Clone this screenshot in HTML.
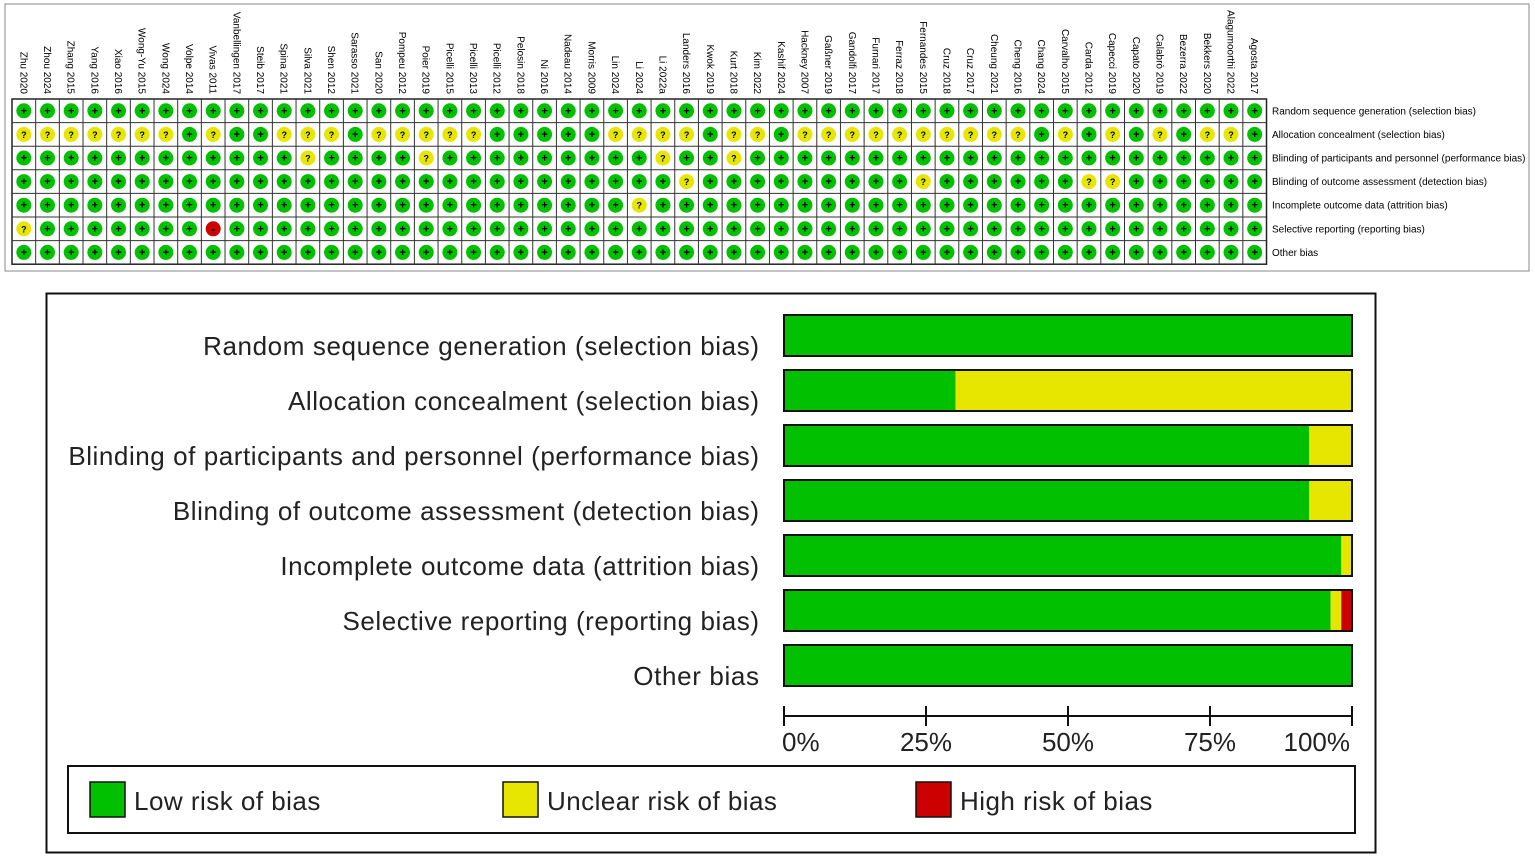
<!DOCTYPE html>
<html><head><meta charset="utf-8"><style>
body{margin:0;background:#fff;font-family:"Liberation Sans",sans-serif}
</style></head><body>
<svg id="chart" width="1535" height="859" xmlns="http://www.w3.org/2000/svg" font-family="Liberation Sans, sans-serif">
<rect x="5" y="4" width="1524" height="267" fill="none" stroke="#888" stroke-width="1"/>
<rect x="46.5" y="293.5" width="1329" height="559" fill="none" stroke="#111" stroke-width="2"/>
<g id="topgrid"></g>
<g id="bottom"></g>
</svg>
<script>
const studies=["Zhu 2020","Zhou 2024","Zhang 2015","Yang 2016","Xiao 2016","Wong-Yu 2015","Wong 2024","Volpe 2014","Vivas 2011","Vanbellingen 2017","Steib 2017","Spina 2021","Silva 2021","Shen 2012","Sarasso 2021","San 2020","Pompeu 2012","Poier 2019","Picelli 2015","Picelli 2013","Picelli 2012","Pelosin 2018","Ni 2016","Nadeau 2014","Morris 2009","Lin 2024","Li 2024","Li 2022a","Landers 2016","Kwok 2019","Kurt 2018","Kim 2022","Kashif 2024","Hackney 2007","Gaßner 2019","Gandolfi 2017","Furnari 2017","Ferraz 2018","Fernandes 2015","Cruz 2018","Cruz 2017","Cheung 2021","Cheng 2016","Chang 2024","Carvalho 2015","Carda 2012","Capecci 2019","Capato 2020","Calabrò 2019","Bezerra 2022","Bekkers 2020","Alagumoorthi 2022","Agosta 2017"];
const domains=["Random sequence generation (selection bias)","Allocation concealment (selection bias)","Blinding of participants and personnel (performance bias)","Blinding of outcome assessment (detection bias)","Incomplete outcome data (attrition bias)","Selective reporting (reporting bias)","Other bias"];
// judgements per domain: L=low, U=unclear, H=high (one char per study)
const judgements=[
"LLLLLLLLLLLLLLLLLLLLLLLLLLLLLLLLLLLLLLLLLLLLLLLLLLLLL",
"UUUUUUULULLUUULUUUUULLLLLUUUULUULUUUUUUUUUULULULULUUL",
"LLLLLLLLLLLLULLLLULLLLLLLLLULLULLLLLLLLLLLLLLLLLLLLLL",
"LLLLLLLLLLLLLLLLLLLLLLLLLLLLULLLLLLLLLULLLLLLUULLLLLL",
"LLLLLLLLLLLLLLLLLLLLLLLLLLULLLLLLLLLLLLLLLLLLLLLLLLLL",
"ULLLLLLLHLLLLLLLLLLLLLLLLLLLLLLLLLLLLLLLLLLLLLLLLLLLL",
"LLLLLLLLLLLLLLLLLLLLLLLLLLLLLLLLLLLLLLLLLLLLLLLLLLLLL"];
const graphLabels=["Random sequence generation (selection bias)","Allocation concealment (selection bias)","Blinding of participants and personnel (performance bias)","Blinding of outcome assessment (detection bias)","Incomplete outcome data (attrition bias)","Selective reporting (reporting bias)","Other bias"];
const tickLabels=["0%","25%","50%","75%","100%"];
const NS="http://www.w3.org/2000/svg";
function mk(tag,attrs,parent,text){const e=document.createElementNS(NS,tag);for(const k in attrs)e.setAttribute(k,attrs[k]);if(text!=null)e.textContent=text;parent.appendChild(e);return e;}
function widen(t,f){const w=t.getComputedTextLength();t.setAttribute('textLength',w*f);t.setAttribute('lengthAdjust','spacing');}
const col={L:"#00c000",U:"#e6e600",H:"#cc0000"};
const topG=document.getElementById('topgrid');
const gx=12,gy=99,cw=23.67,rh=23.6;
const n=studies.length;
studies.forEach((s,i)=>{
 const t=mk('text',{x:0,y:0,'font-size':10,'text-anchor':'end',transform:`translate(${gx+cw*i+cw/2-3.5},94) rotate(90)`},topG,s);
 
 
});
const frame=mk('rect',{x:gx,y:gy,width:cw*n,height:rh*7,fill:'#fff',stroke:'#222','stroke-width':1.5},topG);


for(let i=1;i<n;i++)mk('line',{x1:gx+cw*i,x2:gx+cw*i,y1:gy,y2:gy+rh*7,stroke:'#333','stroke-width':1},topG);
for(let r=1;r<7;r++)mk('line',{x1:gx,x2:gx+cw*n,y1:gy+rh*r,y2:gy+rh*r,stroke:'#333','stroke-width':1},topG);
judgements.forEach((row,r)=>{
 const cy=gy+rh*r+rh/2;
 const lab=mk('text',{x:1272,y:cy+3.5,'font-size':10},topG,domains[r]);
 
 
 [...row].forEach((j,i)=>{
  const cx=gx+cw*i+cw/2;
  const c=mk('circle',{cx:cx,cy:cy,r:7.5,fill:col[j]},topG);
  
  
  mk('text',{x:cx,y:cy+3.5,'font-size':j==='U'?9:11,'font-weight':'bold','text-anchor':'middle',fill:'#000'},topG,j==='L'?'+':j==='U'?'?':'-');
 });
});
// bottom graph
const bot=document.getElementById('bottom');
const x0=784,x1=1352;
const xs=p=>x0+(x1-x0)*p;
judgements.forEach((row,r)=>{
 const cyb=335+55*r;
 const L=[...row].filter(c=>c==='L').length/n,U=[...row].filter(c=>c==='U').length/n,H=[...row].filter(c=>c==='H').length/n;
 const lab=mk('text',{x:759,y:cyb+20,'font-size':26,'text-anchor':'end',fill:'#222'},bot,graphLabels[r]);
 
 
 widen(lab,1.048);
 let acc=0;
 [[L,'L'],[U,'U'],[H,'H']].forEach(([v,k])=>{
  if(v>0){const b=mk('rect',{x:xs(acc),y:cyb-20,width:xs(acc+v)-xs(acc),height:41,fill:col[k]},bot);
  
  }
  acc+=v;
 });
 mk('rect',{x:x0,y:cyb-20,width:x1-x0,height:41,fill:'none',stroke:'#111','stroke-width':2},bot);
});
mk('line',{x1:x0,x2:x1,y1:716,y2:716,stroke:'#111','stroke-width':2},bot);
tickLabels.forEach((t,i)=>{
 const x=xs(i/4);
 mk('line',{x1:x,x2:x,y1:706,y2:726,stroke:'#111','stroke-width':2},bot);
 const tl=mk('text',{x:i===0?x-2:i===4?x-2:x,y:751,'font-size':26,'text-anchor':i===0?'start':i===4?'end':'middle',fill:'#222'},bot,t);
 
 
});
const lg=mk('rect',{x:68,y:766,width:1287,height:67,fill:'none',stroke:'#111','stroke-width':2},bot);


[["L","Low risk of bias",90],["U","Unclear risk of bias",503],["H","High risk of bias",916]].forEach(([k,t,x])=>{
 const s=mk('rect',{x:x,y:782,width:35,height:35,fill:col[k],stroke:'#111','stroke-width':1.5},bot);
 
 
 const tt=mk('text',{x:x+44,y:810,'font-size':26,fill:'#222'},bot,t);
 
 
 widen(tt,1.04);
});
</script>
</body></html>
